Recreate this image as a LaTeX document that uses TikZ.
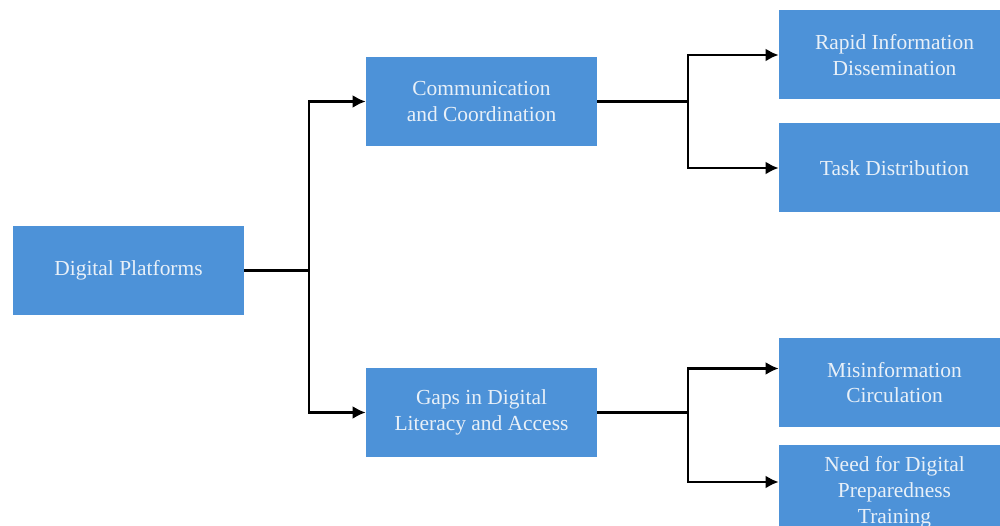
\documentclass[tikz,border=0pt]{standalone}
\usepackage{fontspec}
\setmainfont{Liberation Serif}
\usepackage{tikz}
\usetikzlibrary{arrows.meta}

\definecolor{boxblue}{RGB}{77,146,216}
\definecolor{boxtext}{RGB}{232,240,248}

\begin{document}
\begin{tikzpicture}
                \tikzset{
                  box/.style={fill=boxblue,text=boxtext,align=center,minimum width=4.62cm,minimum height=1.78cm,inner sep=0pt,font=\fontsize{12.2}{14.7}\selectfont},
                  link/.style={line width=1.6pt,black},
                  arr/.style={link,-{Latex[length=2.6mm,width=2.6mm]}}
                }
                \useasboundingbox (0,0) rectangle (20,-10.52);

                \node[box] (dp) at (2.57,-5.41) {Digital Platforms};
                \node[box] (comm) at (9.63,-2.03) {Communication\\and Coordination};
                \node[box] (gaps) at (9.63,-8.25) {Gaps in Digital\\Literacy and Access};
                \node[box] (rapid) at (17.89,-1.10) {Rapid Information\\Dissemination};
                \node[box] (task) at (17.89,-3.36) {Task Distribution};
                \node[box] (mis) at (17.89,-7.65) {Misinformation\\Circulation};
                \node[box,text depth=-0.08cm] (need) at (17.89,-9.80) {Need for Digital\\Preparedness\\Training};

                \coordinate (j1) at (6.18,-5.41);
                \coordinate (j2) at (13.76,-2.03);
                \coordinate (j3) at (13.76,-8.25);

                \draw[link] (dp.east) -- (j1);
                \draw[arr] (j1) |- (comm.west);
                \draw[arr] (j1) |- (gaps.west);

                \draw[link] (comm.east) -- (j2);
                \draw[arr] (j2) |- (rapid.west);
                \draw[arr] (j2) |- (task.west);

                \draw[link] (gaps.east) -- (j3);
                \draw[arr] (j3) |- ([yshift=0.28cm]mis.west);
                \draw[arr] (j3) |- ([yshift=0.16cm]need.west);
            \end{tikzpicture}
\end{document}
